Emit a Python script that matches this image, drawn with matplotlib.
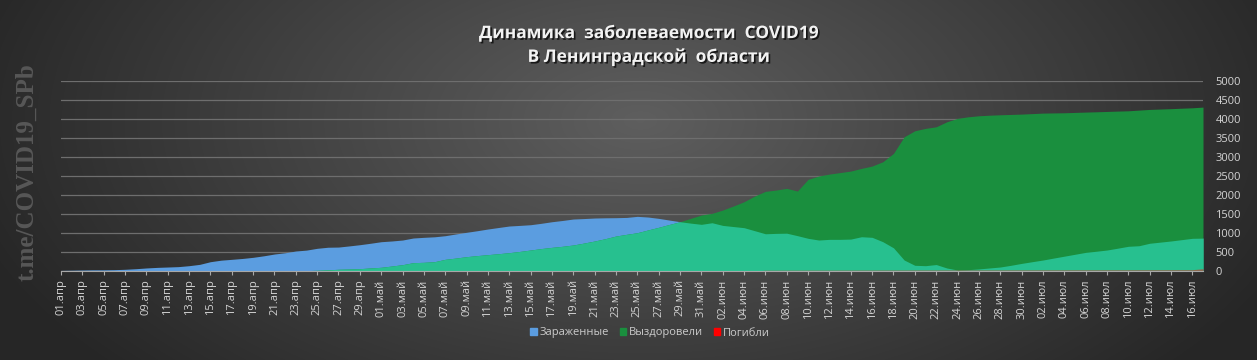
import numpy as np
import matplotlib
matplotlib.use("Agg")
import matplotlib.pyplot as plt
from matplotlib.patches import Patch
import matplotlib.patheffects as pe

plt.rcParams['font.family'] = ['Open Sans', 'DejaVu Sans']

# даты: 01.апр .. 17.июл
meses = ["апр", "май", "июн", "июл"]
dias_mes = [30, 31, 30, 17]

zarazhennye = [
    # апр
    15, 20, 25, 30, 30, 35, 45, 60, 80, 95,
    105, 115, 140, 175, 245, 285, 307, 330, 360, 400,
    447, 480, 526, 550, 597, 625, 630, 660, 692, 730,
    # май
    771, 790, 815, 868, 886, 900, 929, 975, 1018, 1060,
    1105, 1145, 1184, 1200, 1218, 1255, 1297, 1330, 1368, 1380,
    1394, 1400, 1403, 1410, 1438, 1420, 1385, 1340, 1297, 1260, 1228,
    # июн
    1270, 1200, 1170, 1140, 1060, 980, 990, 995, 930, 860,
    815, 833, 833, 840, 902, 886, 771, 610, 289, 150,
    140, 170, 79, 26, 35, 55, 80, 105, 150, 200,
    # июл
    245, 289, 340, 390, 440, 490, 520, 552, 600, 650,
    665, 730, 760, 790, 825, 860, 865,
]

vyzdoroveli = [
    # апр
    0, 0, 0, 0, 0, 0, 0, 0, 0, 0,
    0, 0, 0, 0, 0, 0, 0, 0, 0, 0,
    0, 0, 5, 10, 18, 30, 45, 52, 61, 80,
    # май
    97, 131, 166, 219, 228, 245, 307, 340, 377, 405,
    430, 455, 482, 515, 552, 590, 622, 650, 684, 735,
    789, 850, 920, 965, 1008, 1080, 1150, 1225, 1297, 1385, 1473,
    # июн
    1517, 1604, 1710, 1823, 1973, 2096, 2130, 2175, 2104, 2412,
    2499, 2551, 2590, 2630, 2700, 2762, 2875, 3095, 3532, 3690,
    3753, 3795, 3927, 4016, 4058, 4085, 4100, 4111, 4120, 4129,
    # июл
    4142, 4155, 4160, 4164, 4173, 4182, 4190, 4199, 4208, 4216,
    4234, 4252, 4262, 4272, 4284, 4295, 4313,
]

pogibli = [
    # апр
    0, 0, 0, 0, 0, 0, 0, 0, 0, 0,
    0, 0, 0, 0, 0, 0, 0, 0, 0, 0,
    0, 0, 0, 0, 0, 0, 0, 0, 0, 0,
    # май
    0, 0, 0, 0, 0, 0, 0, 0, 0, 0,
    0, 0, 0, 0, 0, 0, 0, 0, 0, 0,
    0, 0, 0, 0, 0, 0, 0, 0, 0, 0, 0,
    # июн
    0, 0, 0, 0, 0, 20, 20, 21, 21, 22,
    22, 22, 23, 23, 24, 24, 25, 25, 25, 26,
    26, 26, 27, 27, 27, 28, 28, 28, 29, 29,
    # июл
    29, 30, 30, 30, 31, 31, 31, 32, 32, 32,
    33, 33, 34, 34, 35, 35, 60,
]

etiquetas = []
for mes, n in zip(meses, dias_mes):
    for d in range(1, n + 1):
        etiquetas.append(f"{d:02d}.{mes}")

x = np.arange(len(etiquetas))
zar = np.array(zarazhennye)
vyz = np.array(vyzdoroveli)
pog = np.array(pogibli)

fig = plt.figure(figsize=(12.57, 3.6), dpi=100)

# фон: радиальный градиент
bg = fig.add_axes([0, 0, 1, 1], zorder=-10)
yy, xx = np.mgrid[0:360, 0:1257]
r = np.sqrt(((xx - 640) / 700.0) ** 2 + ((yy - 120) / 380.0) ** 2)
val = 0.37 - 0.22 * np.clip(r, 0, 1)
bg.imshow(np.dstack([val, val, val]), aspect='auto', extent=[0, 1, 0, 1])
bg.axis('off')

ax = fig.add_axes([61 / 1257, 1 - 271 / 360, (1203 - 61) / 1257, 190 / 360])
ax.set_facecolor('none')

azul = '#5b9de0'
verde = '#1a8f3e'
turquesa = '#27c08f'
rojo = '#e0201a'

ax.fill_between(x, 0, zar, color=azul, linewidth=0, zorder=2)
ax.fill_between(x, 0, vyz, color=verde, linewidth=0, zorder=3)
ax.fill_between(x, 0, np.minimum(zar, vyz), color=turquesa, linewidth=0, zorder=4)
ax.fill_between(x, 0, pog, color=rojo, alpha=0.55, linewidth=0, zorder=5)

ax.set_xlim(0, len(x) - 1)
ax.set_ylim(0, 5000)
ax.set_yticks(np.arange(0, 5001, 500))
ax.yaxis.tick_right()
ax.tick_params(axis='y', length=0, pad=9, labelsize=8, labelcolor='#d4d4d4')
ax.grid(axis='y', color='#6e6e6e', linewidth=0.9)
ax.set_axisbelow(True)

ax.set_xticks(x[::2])
ax.set_xticklabels(etiquetas[::2], rotation=90)
ax.tick_params(axis='x', length=3, width=0.8, color='#a8a8a8', pad=3,
               labelsize=8, labelcolor='#d4d4d4')

for s in ['top', 'left', 'right']:
    ax.spines[s].set_visible(False)
ax.spines['bottom'].set_color('#a8a8a8')
ax.spines['bottom'].set_zorder(6)

# заголовок
sombra = [pe.withSimplePatchShadow(offset=(1.2, -1.2), shadow_rgbFace='black', alpha=0.7)]
fig.text(0.516, 0.908, "Динамика  заболеваемости  COVID19", ha='center', va='center',
         fontsize=12.5, fontweight='bold', color='#f2f2f2', path_effects=sombra)
fig.text(0.516, 0.842, "В Ленинградской  области", ha='center', va='center',
         fontsize=12.5, fontweight='bold', color='#f2f2f2', path_effects=sombra)

# водяной знак
fig.text(0.0215, 0.523, "t.me/COVID19_SPb", rotation=90, ha='center', va='center',
         fontsize=18, fontweight='bold', color='#575757', family='Liberation Serif')

handles = [Patch(color=azul, label='Зараженные'),
           Patch(color=verde, label='Выздоровели'),
           Patch(color='#ff0000', label='Погибли')]
leg = fig.legend(handles=handles, loc='center', bbox_to_anchor=(0.517, 0.075), ncol=3,
                 frameon=False, fontsize=8, handlelength=0.6, handleheight=0.6,
                 handletextpad=0.2, columnspacing=1.0)
for t in leg.get_texts():
    t.set_color('#cccccc')

fig.savefig('out.png', dpi=100)
